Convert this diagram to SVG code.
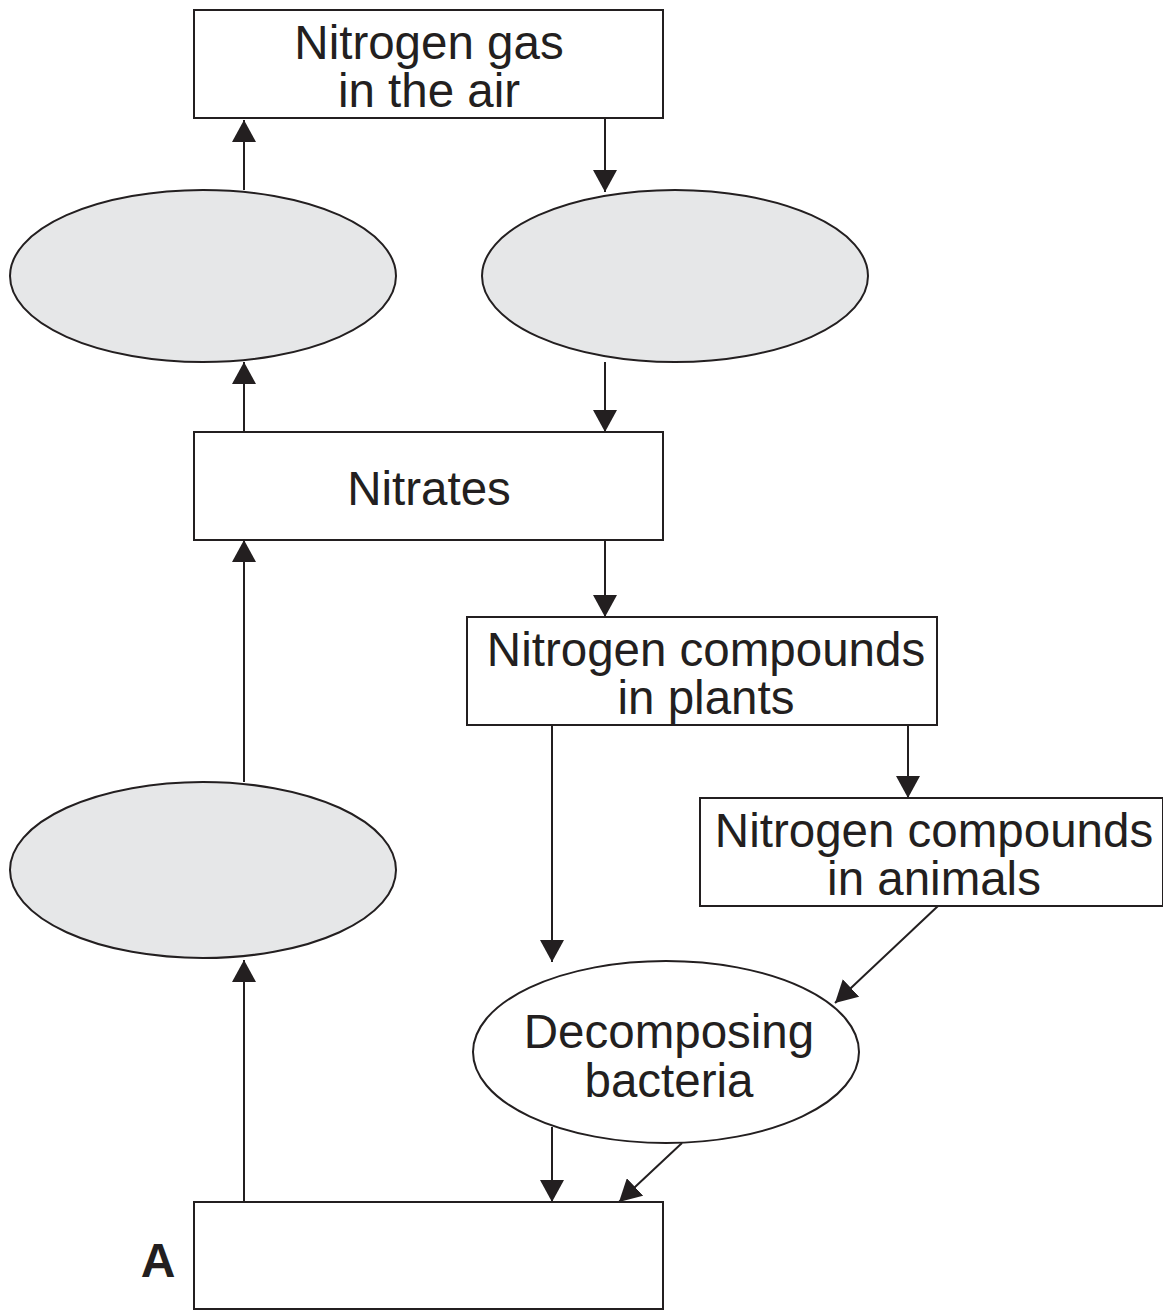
<svg xmlns="http://www.w3.org/2000/svg" width="1163" height="1311" viewBox="0 0 1163 1311">
<style>
.box{fill:#ffffff;stroke:#231f20;stroke-width:2}
.ell{fill:#e6e7e8;stroke:#231f20;stroke-width:2}
.ellw{fill:#ffffff;stroke:#231f20;stroke-width:2}
.t{font-family:"Liberation Sans",Arial,sans-serif;font-size:47.5px;fill:#231f20;text-anchor:middle}
.lab{font-family:"Liberation Sans",Arial,sans-serif;font-size:48px;font-weight:bold;fill:#231f20;text-anchor:middle}
.c{stroke:#231f20;stroke-width:2;fill:none;marker-end:url(#ah)}
</style>
<defs>
<marker id="ah" markerUnits="userSpaceOnUse" viewBox="0 0 22 24" refX="22" refY="12" markerWidth="22" markerHeight="24" orient="auto">
<path d="M0,0 L22,12 L0,24 Z" fill="#231f20"/>
</marker>
</defs>
<rect width="1163" height="1311" fill="#ffffff"/>
<g id="connectors">
<line class="c" x1="244" y1="190" x2="244" y2="120"/>
<line class="c" x1="605" y1="118" x2="605" y2="192"/>
<line class="c" x1="244" y1="432" x2="244" y2="362"/>
<line class="c" x1="605" y1="362" x2="605" y2="432"/>
<line class="c" x1="605" y1="540" x2="605" y2="617"/>
<line class="c" x1="244" y1="782" x2="244" y2="540"/>
<line class="c" x1="908" y1="725" x2="908" y2="798"/>
<line class="c" x1="552" y1="725" x2="552" y2="962"/>
<line class="c" x1="938" y1="906" x2="835" y2="1003"/>
<line class="c" x1="552" y1="1127" x2="552" y2="1202"/>
<line class="c" x1="682" y1="1143" x2="619" y2="1202"/>
<line class="c" x1="244" y1="1202" x2="244" y2="960"/>
</g>
<g id="n-nitrogen-gas">
<rect class="box" x="194" y="10" width="469" height="108"/>
<text class="t" x="429" y="59">Nitrogen gas</text>
<text class="t" x="429" y="107">in the air</text>
</g>
<g id="n-ellipse-top-left">
<ellipse class="ell" cx="203" cy="276" rx="193" ry="86"/>
</g>
<g id="n-ellipse-top-right">
<ellipse class="ell" cx="675" cy="276" rx="193" ry="86"/>
</g>
<g id="n-nitrates">
<rect class="box" x="194" y="432" width="469" height="108"/>
<text class="t" x="429" y="505">Nitrates</text>
</g>
<g id="n-plants">
<rect class="box" x="467" y="617" width="470" height="108"/>
<text class="t" x="706" y="666">Nitrogen compounds</text>
<text class="t" x="706" y="714">in plants</text>
</g>
<g id="n-animals">
<rect class="box" x="700" y="798" width="463" height="108"/>
<text class="t" x="934" y="847">Nitrogen compounds</text>
<text class="t" x="934" y="895">in animals</text>
</g>
<g id="n-ellipse-lower-left">
<ellipse class="ell" cx="203" cy="870" rx="193" ry="88"/>
</g>
<g id="n-decomposing">
<ellipse class="ellw" cx="666" cy="1052" rx="193" ry="91"/>
<text class="t" x="669" y="1048">Decomposing</text>
<text class="t" x="669" y="1097">bacteria</text>
</g>
<g id="n-a">
<rect class="box" x="194" y="1202" width="469" height="107"/>
<text class="lab" x="158" y="1277">A</text>
</g>
</svg>
